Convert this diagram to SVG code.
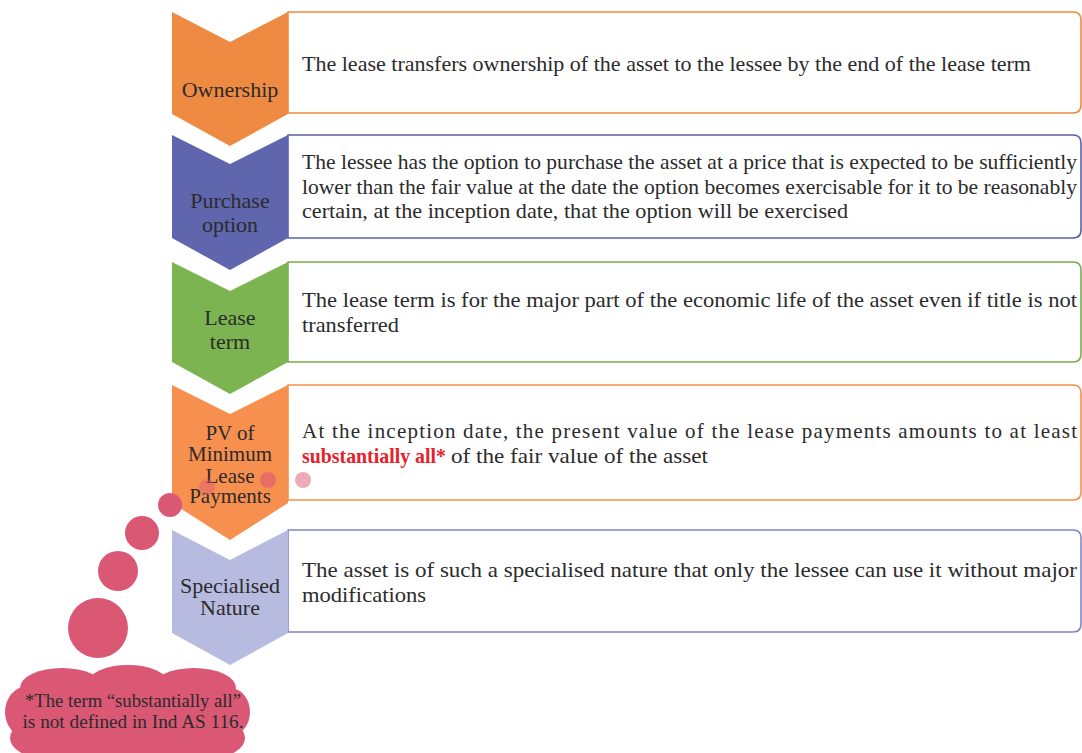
<svg xmlns="http://www.w3.org/2000/svg" width="1082" height="753" viewBox="0 0 1082 753">
<style>
.body{font-family:"Liberation Serif","Times New Roman",serif;font-size:21px;fill:#2b2b2b}
.lbl{font-family:"Liberation Serif","Times New Roman",serif;font-size:22px;fill:#2b2b2b;text-anchor:middle}
.lbls{font-size:21px}
.box{fill:#ffffff;stroke-width:1.6}
.red{fill:#e8202a;font-weight:bold}
.pink{fill:#db5875}
.note{font-family:"Liberation Serif","Times New Roman",serif;font-size:19.5px;fill:#2b2b2b;text-anchor:middle}
</style>
<rect width="1082" height="753" fill="#ffffff"/>
<g id="connectors"></g>

<g id="ownership">
<path class="box" stroke="#f08b3c" d="M288,12 H1073 Q1081,12 1081,20 V105 Q1081,113 1073,113 H288 Z"/>
<path fill="#ef8a43" d="M172,12 L230,42 L288,12 L288,114 L230,146 L172,114 Z"/>
<text class="lbl" x="230" y="97">Ownership</text>
<text class="body" x="302" y="71" textLength="729" lengthAdjust="spacingAndGlyphs">The lease transfers ownership of the asset to the lessee by the end of the lease term</text>
</g>

<g id="purchase">
<path class="box" stroke="#5862aa" d="M288,135 H1073 Q1081,135 1081,143 V230 Q1081,238 1073,238 H288 Z"/>
<path fill="#5f66ae" d="M172,135 L230,164 L288,135 L288,238 L230,270 L172,238 Z"/>
<text class="lbl" x="230" y="208">Purchase</text>
<text class="lbl" x="230" y="232">option</text>
<text class="body" x="302" y="169" textLength="775" lengthAdjust="spacingAndGlyphs">The lessee has the option to purchase the asset at a price that is expected to be sufficiently</text>
<text class="body" x="302" y="193.5" textLength="775" lengthAdjust="spacingAndGlyphs">lower than the fair value at the date the option becomes exercisable for it to be reasonably</text>
<text class="body" x="302" y="218" textLength="546" lengthAdjust="spacingAndGlyphs">certain, at the inception date, that the option will be exercised</text>
</g>

<g id="leaseterm">
<path class="box" stroke="#76b04c" d="M288,262 H1073 Q1081,262 1081,270 V354 Q1081,362 1073,362 H288 Z"/>
<path fill="#7bb451" d="M172,262 L230,291 L288,262 L288,362 L230,394 L172,362 Z"/>
<text class="lbl" x="230" y="325">Lease</text>
<text class="lbl" x="230" y="349">term</text>
<text class="body" x="302" y="307" textLength="775" lengthAdjust="spacingAndGlyphs">The lease term is for the major part of the economic life of the asset even if title is not</text>
<text class="body" x="302" y="332" textLength="97" lengthAdjust="spacingAndGlyphs">transferred</text>
</g>

<g id="pv">
<path class="box" stroke="#f79046" d="M288,385 H1073 Q1081,385 1081,393 V492 Q1081,500 1073,500 H288 Z"/>
<path fill="#f7904f" d="M172,385 L230,414 L288,385 L288,503 L230,540 L172,503 Z"/>
<text class="lbl lbls" x="230" y="440">PV of</text>
<text class="lbl lbls" x="230" y="461">Minimum</text>
<text class="lbl lbls" x="230" y="483">Lease</text>
<text class="lbl lbls" x="230" y="503">Payments</text>
<text class="body" x="302" y="438" textLength="775" lengthAdjust="spacing">At the inception date, the present value of the lease payments amounts to at least</text>
<text class="body" x="302" y="463"><tspan class="red" textLength="144" lengthAdjust="spacingAndGlyphs">substantially all*</tspan></text>
<text class="body" x="451" y="463" textLength="257" lengthAdjust="spacingAndGlyphs">of the fair value of the asset</text>
</g>

<g id="specialised">
<path class="box" stroke="#7e86c8" d="M288,530 H1073 Q1081,530 1081,538 V624 Q1081,632 1073,632 H288 Z"/>
<path fill="#b8bbe0" d="M172,530 L230,560 L288,530 L288,633 L230,665 L172,633 Z"/>
<text class="lbl" x="230" y="593">Specialised</text>
<text class="lbl" x="230" y="615">Nature</text>
<text class="body" x="302" y="577" textLength="775" lengthAdjust="spacingAndGlyphs">The asset is of such a specialised nature that only the lessee can use it without major</text>
<text class="body" x="302" y="602" textLength="124" lengthAdjust="spacingAndGlyphs">modifications</text>
</g>

<g id="thought-bubbles">
<circle cx="303" cy="480" r="8" fill="#db5875" opacity="0.5"/>
<circle cx="268" cy="480" r="8" fill="#db5875" opacity="0.6"/>
<circle cx="207" cy="487" r="8" fill="#db5875" opacity="0.45"/>
<circle class="pink" cx="170" cy="505" r="12"/>
<circle class="pink" cx="142" cy="533" r="17"/>
<circle class="pink" cx="118" cy="571" r="20"/>
<circle class="pink" cx="98" cy="628" r="30"/>
</g>

<g id="note-cloud">
<g class="pink">
<ellipse cx="128" cy="716" rx="116" ry="40"/>
<ellipse cx="62" cy="688" rx="42" ry="20"/>
<ellipse cx="128" cy="683" rx="40" ry="18"/>
<ellipse cx="194" cy="688" rx="42" ry="20"/>
<ellipse cx="28" cy="712" rx="23" ry="26"/>
<ellipse cx="230" cy="712" rx="20" ry="24"/>
<ellipse cx="45" cy="738" rx="35" ry="20"/>
<ellipse cx="210" cy="738" rx="35" ry="20"/>
<ellipse cx="128" cy="745" rx="100" ry="20"/>
</g>
<text class="note" x="133" y="707" textLength="216" lengthAdjust="spacingAndGlyphs">*The term “substantially all”</text>
<text class="note" x="133" y="728" textLength="221" lengthAdjust="spacingAndGlyphs">is not defined in Ind AS 116.</text>
</g>
</svg>
